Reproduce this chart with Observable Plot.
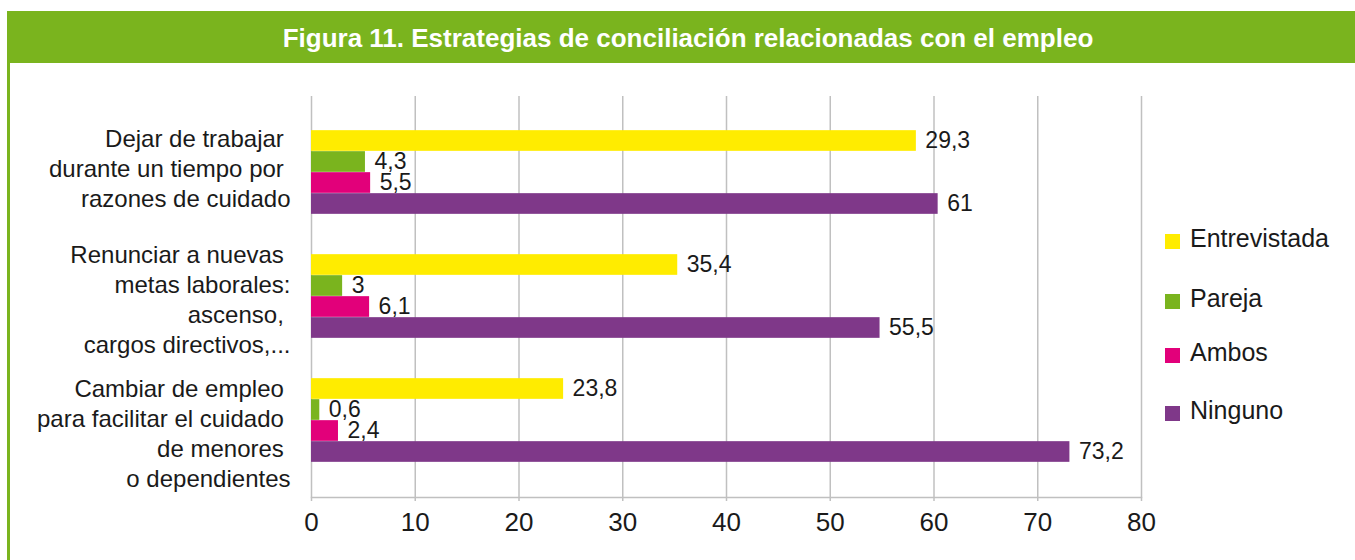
<!DOCTYPE html>
<html>
<head>
<meta charset="utf-8">
<script src="https://cdn.jsdelivr.net/npm/d3@7"></script>
<script src="https://cdn.jsdelivr.net/npm/@observablehq/plot@0.6"></script>
<style>
  html, body { margin: 0; padding: 0; background: #fff; }
  body { width: 1355px; height: 560px; overflow: hidden; font-family: "Liberation Sans", Arial, Helvetica, sans-serif; }
  #banner { position: absolute; left: 7px; top: 11px; width: 1348px; height: 52px; background: #7AB41E;
    color: #fff; font-weight: bold; font-size: 26px; display: flex; align-items: center; justify-content: center; }
  #banner span { position: relative; left: 7px; top: 1px; }
  #wrap { position: absolute; left: 0; top: 63px; width: 1355px; height: 497px; }
  #leftline { position: absolute; left: 7px; top: 63px; width: 3px; height: 497px; background: #7AB41E; }
  .leg { position: absolute; left: 1165px; height: 20px; display: flex; align-items: center; font-size: 25px; color: #1a1a1a; }
  .leg i { display: inline-block; width: 15px; height: 15px; margin-right: 10px; position: relative; top: 3px; }
</style>
</head>
<body>
<div id="banner"><span>Figura 11. Estrategias de conciliación relacionadas con el empleo</span></div>
<div id="leftline"></div>
<div id="wrap"></div>
<div id="legend"></div>
<script>
// ---- data ----
const categories = [
  "Dejar de trabajar durante un tiempo por razones de cuidado",
  "Renunciar a nuevas metas laborales: ascenso, cargos directivos,...",
  "Cambiar de empleo para facilitar el cuidado de menores o dependientes"
];
const categoryLines = [
  ["Dejar de trabajar\u00a0", "durante un tiempo por\u00a0", "razones de cuidado"],
  ["Renunciar a nuevas\u00a0", "metas laborales:", "ascenso,\u00a0", "cargos directivos,..."],
  ["Cambiar de empleo\u00a0", "para facilitar el cuidado\u00a0", "de menores\u00a0", "o dependientes"]
];
const series = ["Entrevistada", "Pareja", "Ambos", "Ninguno"];
// printed values (labels)
const entrevistada = [29.3, 35.4, 23.8];
const pareja = [4.3, 3, 0.6];
const ambos = [5.5, 6.1, 2.4];
const ninguno = [61, 55.5, 73.2];
// bar lengths as drawn in the original figure
const entrevistadaBars = [58.3, 35.3, 24.3];
const parejaBars = [5.2, 3.0, 0.8];
const ambosBars = [5.7, 5.6, 2.6];
const ningunoBars = [60.4, 54.8, 73.1];
const xTicks = [0, 10, 20, 30, 40, 50, 60, 70, 80];

// ---- styles ----
const colors = ["#FFEC00", "#7AB41E", "#E2007A", "#7F3889"];
const labelDy = [-5, 2, 12];
const gray = "#c0c0c0";
const font = '"Liberation Sans", Arial, Helvetica, sans-serif';

const printed = [entrevistada, pareja, ambos, ninguno];
const lengths = [entrevistadaBars, parejaBars, ambosBars, ningunoBars];
const rows = [];
series.forEach((s, si) => categories.forEach((c, ci) => rows.push({
  category: c, series: s, si, value: lengths[si][ci], label: printed[si][ci]
})));

const fmt = v => String(v).replace(".", ",");
const bandH = 124.33, barH = 21;

const marks = [
  Plot.gridX({ticks: xTicks, stroke: gray, strokeOpacity: 1, strokeWidth: 1.5}),
  Plot.frame({anchor: "bottom", stroke: gray, strokeWidth: 1.5}),
  Plot.axisX({ticks: xTicks, tickSize: 4, tickPadding: 11, stroke: gray, strokeWidth: 1.5, fontSize: 26,
    color: "#1a1a1a", fill: "#1a1a1a", label: null, tickFormat: d => String(d)})
];
series.forEach((s, si) => {
  const top = bandH / 2 - 2 * barH + barH * si;
  marks.push(Plot.barX(rows.filter(r => r.si === si), {
    x: "value", y: "category", fill: colors[si],
    insetTop: top, insetBottom: bandH - top - barH
  }));
  marks.push(Plot.text(rows.filter(r => r.si === si), {
    x: "value", y: "category", text: d => fmt(d.label), textAnchor: "start",
    dx: 9, dy: -2 * barH + barH * si + barH / 2, fontSize: 23, fill: "#1a1a1a"
  }));
});
categories.forEach((c, ci) => {
  marks.push(Plot.text([c], {
    y: d => d, frameAnchor: "left", textAnchor: "end", dx: -21, dy: labelDy[ci],
    text: () => categoryLines[ci].join("\n"), lineHeight: 1.25, fontSize: 24, fill: "#1a1a1a"
  }));
});

const chart = Plot.plot({
  width: 1355, height: 497,
  marginTop: 33, marginBottom: 63, marginLeft: 311, marginRight: 214,
  style: {fontFamily: font, background: "transparent", overflow: "visible"},
  x: {domain: [0, 80]},
  y: {domain: categories, range: [46, 419], padding: 0, axis: null},
  marks
});
document.getElementById("wrap").appendChild(chart);

// legend (outside plot area, HTML)
const legTops = [228, 288, 342, 400];
const leg = document.getElementById("legend");
series.forEach((s, si) => {
  const d = document.createElement("div");
  d.className = "leg";
  d.style.top = legTops[si] + "px";
  d.innerHTML = `<i style="background:${colors[si]}"></i>${s}`;
  leg.appendChild(d);
});
</script>
</body>
</html>
